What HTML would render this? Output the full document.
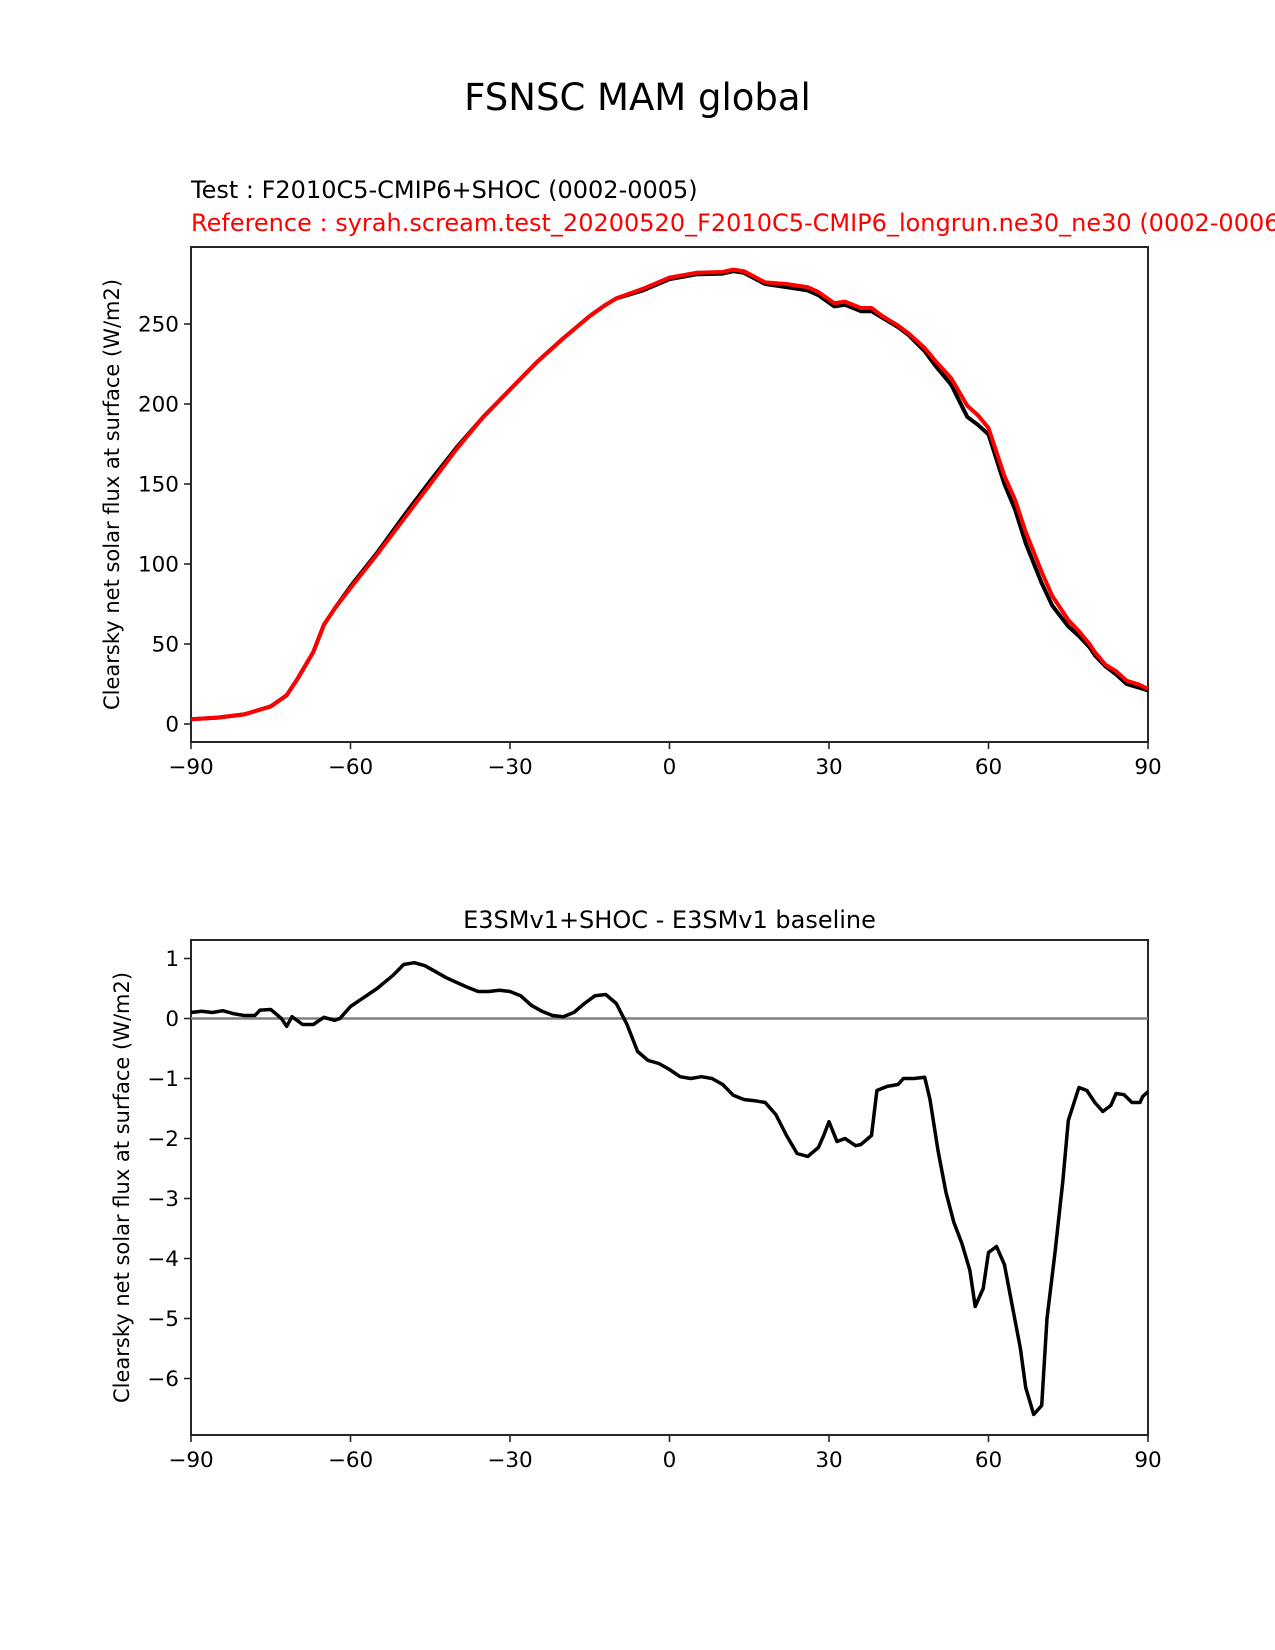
<!DOCTYPE html>
<html><head><meta charset="utf-8"><style>
body{margin:0;background:#fff}
svg{display:block;font-family:"DejaVu Sans","Liberation Sans",sans-serif}
</style></head><body>
<svg id="fig" width="1275" height="1650" viewBox="0 0 1275 1650">
<text x="637.5" y="110" font-size="37" text-anchor="middle">FSNSC MAM global</text>
<text x="191" y="198" font-size="24">Test : F2010C5-CMIP6+SHOC (0002-0005)</text>
<text x="191" y="231" font-size="24" fill="#ff0000">Reference : syrah.scream.test_20200520_F2010C5-CMIP6_longrun.ne30_ne30 (0002-0006)</text>
<text x="669.5" y="928" font-size="24" text-anchor="middle">E3SMv1+SHOC - E3SMv1 baseline</text>
<g id="top"></g>
<g id="bot"></g>
</svg>
<script>
const topLat = [-90,-85,-80,-75,-72,-70,-67,-65,-63,-60,-55,-50,-45,-40,-35,-30,-25,-20,-15,-12,-10,-5,0,5,10,12,14,18,22,26,28,31,33,36,38,40,43,45,48,50,53,56,58,60,63,65,67,70,72,75,77,79,80,82,84,86,88,90];
const refVals = [3,4,6,11,18,28,45,62,72,85,106,128,150,172,192,209,226,241,255,262,266,272,279,282,282.5,284,283,276,275,273,270,263,264,260,260,255,249,244,235,227,216,199,193,185,155,140,120,95,80,65,58,50,45,37,33,27,25,22];
const testVals = [3,4,6,11,18,28,45,62,72,86,107,130,152,173,192,209,226,241,255,262,266,271,278,281,281.5,283,282,275,273,271,268,261,262,258,258,254,248,243,233,224,212,192,187,181,150,134,113,88,74,61,55,48,43,36,31,25,23,21];
const diffLat = [-90,-88,-86,-84,-82,-80,-78,-77,-75,-73,-72,-71,-69,-67,-65,-63,-62,-60,-58,-55,-52,-50,-48,-46,-44,-42,-40,-38,-36,-34,-32,-30,-28,-26,-24,-22,-20,-18,-16,-14,-12,-10,-8,-6,-4,-2,0,2,4,6,8,10,12,14,16,18,20,22,24,26,28,29,30,31.5,33,35,36,38,39,41,43,44,46,48,49,50.5,52,53.5,55,56.5,57.5,59,60,61.5,63,64.5,66,67,68.5,70,71,72.5,74,75,77,78.5,80,81.5,83,84,85.5,87,88.5,89,90];
const diffVals = [0.1,0.12,0.1,0.13,0.08,0.05,0.05,0.14,0.15,0.0,-0.13,0.03,-0.1,-0.1,0.02,-0.03,0.0,0.2,0.32,0.5,0.72,0.9,0.93,0.88,0.78,0.68,0.6,0.52,0.45,0.45,0.47,0.45,0.38,0.22,0.12,0.05,0.03,0.1,0.25,0.38,0.4,0.25,-0.1,-0.55,-0.7,-0.75,-0.85,-0.97,-1.0,-0.97,-1.0,-1.1,-1.28,-1.35,-1.37,-1.4,-1.6,-1.95,-2.25,-2.3,-2.15,-1.95,-1.72,-2.05,-2.0,-2.12,-2.1,-1.95,-1.2,-1.13,-1.1,-1.0,-1.0,-0.98,-1.35,-2.2,-2.9,-3.4,-3.75,-4.2,-4.8,-4.5,-3.9,-3.8,-4.1,-4.8,-5.5,-6.15,-6.6,-6.45,-5.0,-3.9,-2.7,-1.7,-1.15,-1.2,-1.4,-1.55,-1.45,-1.25,-1.27,-1.4,-1.4,-1.3,-1.22];
const xTicks = [-90,-60,-30,0,30,60,90];
const xTickLabels = ["\u221290","\u221260","\u221230","0","30","60","90"];
const topYTicks = [0,50,100,150,200,250];
const botYTicks = [1,0,-1,-2,-3,-4,-5,-6];
const botYTickLabels = ["1","0","\u22121","\u22122","\u22123","\u22124","\u22125","\u22126"];

const NS='http://www.w3.org/2000/svg';
function mk(parent,tag,attrs){const e=document.createElementNS(NS,tag);for(const k in attrs)e.setAttribute(k,attrs[k]);parent.appendChild(e);return e;}
const L=191,R=1148;
const xs=v=>L+(v+90)/180*(R-L);

function drawAxes(g,T,B,ys,yTicks,yLabels,ylabel,ylx,prefix){
  const frame=mk(g,'rect',{x:L,y:T,width:R-L,height:B-T,fill:'none',stroke:'#262626','stroke-width':2});
  
  
  xTicks.forEach((t,i)=>{
    const x=xs(t);
    const tk=mk(g,'line',{x1:x,x2:x,y1:B,y2:B+7,stroke:'#262626','stroke-width':1.6});
    
    
    const tx=mk(g,'text',{x:x,y:B+32,'font-size':21.5,'text-anchor':'middle'});
    tx.textContent=xTickLabels[i];
    
    
  });
  yTicks.forEach((t,i)=>{
    const y=ys(t);
    const tk=mk(g,'line',{x1:L-7,x2:L,y1:y,y2:y,stroke:'#262626','stroke-width':1.6});
    
    
    const tx=mk(g,'text',{x:L-12,y:y+7.5,'font-size':21.5,'text-anchor':'end'});
    tx.textContent=yLabels[i];
    
    
  });
  const cy=(T+B)/2;
  const yl=mk(g,'text',{x:ylx,y:cy,'font-size':21,'text-anchor':'middle',transform:`rotate(-90 ${ylx} ${cy})`});
  yl.textContent=ylabel;
  
  
}
function line(g,lat,vals,ys,color,w,name){
  const d=lat.map((v,i)=>(i?'L':'M')+xs(v).toFixed(1)+','+ys(vals[i]).toFixed(1)).join('');
  const p=mk(g,'path',{d:d,fill:'none',stroke:color,'stroke-width':w,'stroke-linejoin':'round'});
  
  
}
const gT=document.getElementById('top');
const tT=247,tB=742;
const ysT=v=>724-v*1.6;
drawAxes(gT,tT,tB,ysT,topYTicks,topYTicks.map(String),'Clearsky net solar flux at surface (W/m2)',119,'top');
line(gT,topLat,testVals,ysT,'#000',4,'test-series-line');
line(gT,topLat,refVals,ysT,'#ff0000',4,'reference-series-line');
const gB=document.getElementById('bot');
const bT=940,bB=1435;
const ysB=v=>1018.5-v*60;
drawAxes(gB,bT,bB,ysB,botYTicks,botYTickLabels,'Clearsky net solar flux at surface (W/m2)',129,'diff');
const zl=mk(gB,'line',{x1:L,x2:R,y1:ysB(0),y2:ysB(0),stroke:'#808080','stroke-width':2.5});


line(gB,diffLat,diffVals,ysB,'#000',3.5,'difference-series-line');
</script>
</body></html>
